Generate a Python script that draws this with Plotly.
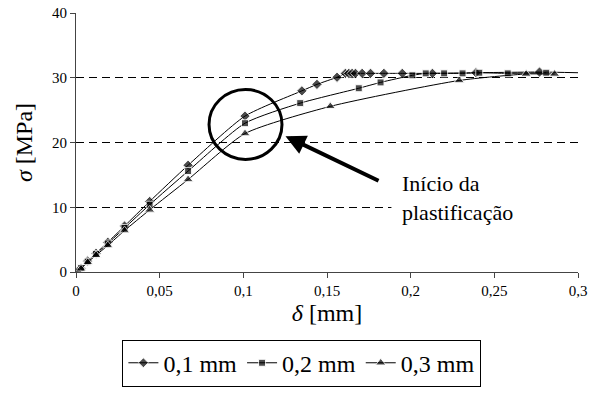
import plotly.graph_objects as go

# Series 1: 0,1 mm (diamonds)
x1 = [0, 0.001, 0.003, 0.007, 0.012, 0.019, 0.029, 0.044, 0.067, 0.101, 0.135, 0.144,
      0.156, 0.161, 0.163, 0.165, 0.167, 0.171, 0.176, 0.184, 0.195, 0.213, 0.239, 0.277, 0.300]
y1 = [0, 0.2, 0.6, 1.7, 2.9, 4.6, 7.1, 10.9, 16.5, 24.1, 28.0, 29.0,
      30.1, 30.7, 30.7, 30.7, 30.7, 30.7, 30.7, 30.7, 30.7, 30.7, 30.8, 30.9, 30.8]
# Series 2: 0,2 mm (squares)
x2 = [0, 0.001, 0.003, 0.007, 0.012, 0.019, 0.029, 0.044, 0.067, 0.101, 0.134, 0.169,
      0.182, 0.201, 0.209, 0.220, 0.231, 0.241, 0.258, 0.281]
y2 = [0, 0.2, 0.6, 1.6, 2.8, 4.4, 6.8, 10.4, 15.6, 23.0, 26.1, 28.4,
      29.3, 30.4, 30.7, 30.7, 30.7, 30.8, 30.7, 30.8]
# Series 3: 0,3 mm (triangles)
x3 = [0, 0.001, 0.003, 0.007, 0.012, 0.019, 0.029, 0.044, 0.067, 0.101, 0.152, 0.229,
      0.269, 0.286]
y3 = [0, 0.2, 0.5, 1.5, 2.6, 4.1, 6.4, 9.6, 14.3, 21.4, 25.6, 29.6,
      30.6, 30.6]

names = ["0,1 mm", "0,2 mm", "0,3 mm"]
symbols = ["diamond", "square", "triangle-up"]
x_ticks = [0, 0.05, 0.1, 0.15, 0.2, 0.25, 0.3]
x_labels = ["0", "0,05", "0,1", "0,15", "0,2", "0,25", "0,3"]
y_ticks = [0, 10, 20, 30, 40]

FONT = "Liberation Serif"
fig = go.Figure()
for xs, ys, nm, sym, sz in zip([x1, x2, x3], [y1, y2, y3], names, symbols, [8, 7, 9]):
    sizes = [sz] * len(xs)
    if xs is x1:
        sizes[-1] = 0
    fig.add_trace(go.Scatter(
        x=xs, y=ys, name=nm, mode="lines+markers",
        line=dict(color="black", width=1, shape="spline", smoothing=0.6),
        marker=dict(symbol=sym, size=sizes, color="black"),
    ))

fig.update_layout(
    width=590, height=398,
    margin=dict(l=76, r=12, t=13, b=122),
    paper_bgcolor="white", plot_bgcolor="white",
    font=dict(family=FONT, color="black", size=15),
    showlegend=True,
    legend=dict(orientation="h", x=0.45, y=-0.352, xanchor="center", yanchor="middle",
                bordercolor="black", borderwidth=1, font=dict(size=24, family=FONT),
                itemwidth=30, tracegroupgap=0),
    xaxis=dict(range=[0, 0.3], tickvals=x_ticks, ticktext=x_labels, automargin=False,
               showgrid=False, zeroline=False, showline=True, linecolor="#444",
               linewidth=1, ticks="outside", ticklen=5, tickcolor="#444",
               tickfont=dict(size=15, family=FONT),
               title=dict(text="<i>δ</i> [mm]", font=dict(size=24, family=FONT), standoff=6)),
    yaxis=dict(range=[0, 40.03], tickvals=y_ticks, automargin=False,
               showgrid=True, gridcolor="black", griddash="8px,5px", gridwidth=1,
               zeroline=False, showline=True, linecolor="#444",
               linewidth=1, ticks="outside", ticklen=5, tickcolor="#444",
               tickfont=dict(size=15, family=FONT),
               title=dict(text="<i>σ</i> [MPa]", font=dict(size=24, family=FONT), standoff=12)),
)

# Circle marking onset of plastification
fig.add_shape(type="circle", xref="x", yref="y",
              x0=0.0795, x1=0.1231, y0=17.4, y1=28.2,
              line=dict(color="black", width=3))

# White patch behind the label (hides the grid line there)
fig.add_shape(type="rect", xref="x", yref="y", x0=0.1885, x1=0.3, y0=7.6, y1=11.6,
              fillcolor="white", line=dict(width=0), layer="above")

# Text label
fig.add_annotation(x=0.1936, y=11.5, xref="x", yref="y", xanchor="left", yanchor="middle",
                   showarrow=False, align="left", text="Início da<br>plastificação",
                   font=dict(size=22, family=FONT, color="black"))
# Arrow
fig.add_annotation(x=0.1252, y=21.0, ax=0.1817, ay=14.0, xref="x", yref="y",
                   axref="x", ayref="y", showarrow=True, arrowhead=2, arrowsize=1.0,
                   arrowwidth=4, arrowcolor="black", text="")

fig.write_html("out.html")
